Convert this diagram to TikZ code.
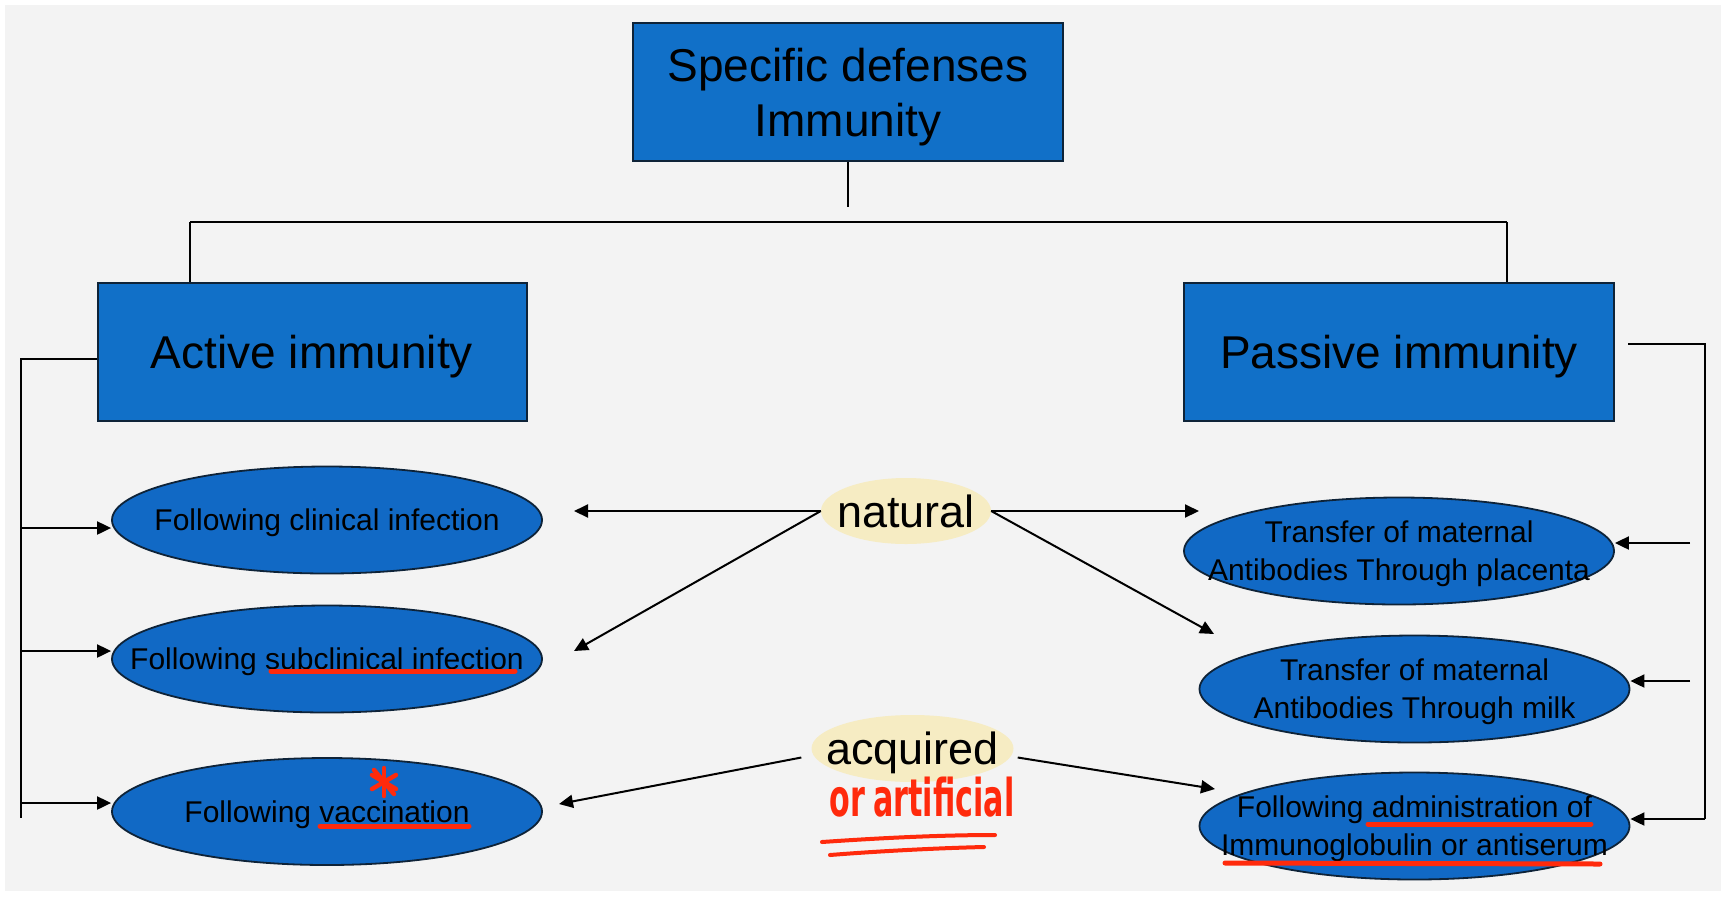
\documentclass[tikz,border=0pt]{standalone}
\usepackage{graphicx}
\usepackage{fontspec}
\setmainfont{Liberation Sans}
\newfontfamily\handfont{DejaVu Sans}
\usetikzlibrary{shapes.geometric,arrows.meta,calc}
\definecolor{boxblue}{HTML}{1170C8}
\definecolor{ellblue}{HTML}{1169C5}
\definecolor{edgecol}{HTML}{0E2338}
\definecolor{pale}{HTML}{F6ECC3}
\definecolor{hred}{HTML}{FF2A0C}
\definecolor{bgcol}{HTML}{F3F3F3}
\newcommand\zdp[1]{\raisebox{0pt}[\height][0pt]{#1}}
\begin{document}
\begin{tikzpicture}[x=1pt,y=-1pt,
 topbox/.style={draw=edgecol,line width=2pt,fill=boxblue,rectangle,minimum width=430pt,minimum height=138pt,inner sep=0pt,align=center,font=\fontsize{46}{55}\selectfont},
 ell/.style={draw=edgecol,line width=1.8pt,fill=ellblue,ellipse,minimum width=430pt,minimum height=107pt,inner xsep=-160pt,inner ysep=0pt,align=center,font=\fontsize{30}{38}\selectfont},
 tag/.style={fill=pale,ellipse,inner xsep=-50pt,inner ysep=0pt,font=\fontsize{45}{54}\selectfont},
 ln/.style={line width=1.6pt,black},
 arr/.style={line width=2pt,black,-{Triangle[length=14pt,width=13pt]}},
 redmark/.style={hred,line width=5pt,line cap=round}]
\fill[white] (0,0) rectangle (1731,898);
\fill[bgcol] (5,5) rectangle (1721,891);
\useasboundingbox (0,0) rectangle (1731,898);

% boxes
\node[topbox] (top) at (848,92) {Specific defenses\\\zdp{Immunity}};
\node[topbox,minimum width=429pt] (act) at (312,352) {\zdp{Active immunity}};
\node[topbox] (pas) at (1399,352) {\zdp{Passive immunity}};

% ellipses
\node[ell] (cli) at (327,520) {\zdp{Following clinical infection}};
\node[ell] (sub) at (327,659) {\zdp{Following subclinical infection}};
\node[ell] (vac) at (327,811.5) {\zdp{Following vaccination}};
\node[ell] (pla) at (1399,551) {Transfer of maternal\\\zdp{Antibodies Through placenta}};
\node[ell] (mil) at (1414.5,689) {Transfer of maternal\\\zdp{Antibodies Through milk}};
\node[ell] (adm) at (1414.5,826) {Following administration of\\\zdp{Immunoglobulin or antiserum}};

% tags
\node[tag,minimum width=170pt,minimum height=66pt] (nat) at (906,511) {natural};
\node[tag,minimum width=202pt,minimum height=67pt] (acq) at (912.5,748.5) {\zdp{acquired}};

% tree
\coordinate (tstem) at (848,207);
\coordinate (hl) at (190,222);
\coordinate (hr) at (1507,222);
\draw[ln] (top.south) -- (tstem);
\draw[ln,line width=2.4pt] (hl) -- (hr);
\draw[ln] (hl) -- (hl|-act.north);
\draw[ln] (hr) -- (hr|-pas.north);

% left bracket
\coordinate (lt) at (21,359);
\coordinate (lb) at (21,818);
\draw[ln] (act.west|-lt) -- (lt) -- (lb);
\coordinate (l1) at (21,528);
\coordinate (l2) at (21,651);
\coordinate (l3) at (21,803);
\draw[arr] (l1) -- (cli.west|-l1);
\draw[arr] (l2) -- (sub.west|-l2);
\draw[arr] (l3) -- (vac.west|-l3);

% right bracket
\coordinate (rs) at (1628,344);
\coordinate (rt) at (1705,344);
\coordinate (rb) at (1705,819);
\draw[ln] (rs) -- (rt) -- (rb);
\draw[arr] (rb) -- (adm.east|-rb);
\coordinate (r1) at (1690,543);
\coordinate (r2) at (1690,681);
\draw[arr] (r1) -- (pla.east|-r1);
\draw[arr] (r2) -- (mil.east|-r2);

% natural arrows
\coordinate (n1) at (574,511);
\coordinate (n2) at (574,651);
\coordinate (n3) at (1199,511);
\coordinate (n4) at (1214,634);
\draw[arr] (nat.west) -- (n1);
\draw[arr] (nat.west) -- (n2);
\draw[arr] (nat.east) -- (n3);
\draw[arr] (nat.east) -- (n4);

% acquired arrows
\coordinate (a1) at (559,804);
\coordinate (a2) at (1215,789);
\draw[arr] ($(acq.west)+(-10,9)$) -- (a1);
\draw[arr] ($(acq.east)+(4,9)$) -- (a2);

% red annotations
\draw[redmark] (271,671) -- (515,671);
\draw[redmark] (320,826) -- (469,826);
\draw[redmark] (1368,824) -- (1591,824);
\draw[redmark] (1225,863) -- (1600,864);
\draw[redmark,line width=4.5pt] (384,768) -- (384,796);
\draw[redmark,line width=4.5pt] (372,775) -- (396,789);
\draw[redmark,line width=4.5pt] (372,789) -- (396,775);
\draw[redmark,line width=4.5pt] (374,770) -- (394,794);
\node[text=hred,inner sep=0pt,font=\handfont\bfseries\fontsize{52}{52}\selectfont] (art) at (922,797) {\scalebox{0.58}[1]{or\hspace{14pt}artificial}};
\draw[redmark,line width=4pt] (822,842) .. controls (880,838) and (940,835) .. (995,835);
\draw[redmark,line width=4pt] (830,855) .. controls (880,851) and (940,848) .. (984,847);
\end{tikzpicture}
\end{document}
